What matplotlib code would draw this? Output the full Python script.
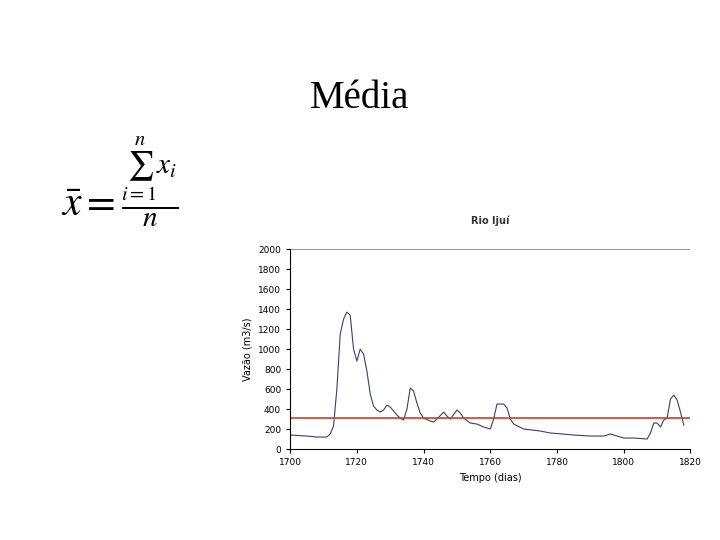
import matplotlib.pyplot as plt

plt.rcParams["mathtext.fontset"] = "stix"

dias = [1700, 1705, 1708, 1711, 1712, 1713, 1714, 1715, 1716, 1717, 1718, 1719, 1720,
        1721, 1722, 1723, 1724, 1725, 1726, 1727, 1728, 1729, 1730, 1731, 1732, 1733,
        1734, 1735, 1736, 1737, 1738, 1739, 1740, 1742, 1743, 1744, 1746, 1747, 1748,
        1750, 1751, 1752, 1754, 1756, 1758, 1760, 1761, 1762, 1764, 1765, 1766, 1767,
        1770, 1775, 1778, 1780, 1785, 1790, 1794, 1796, 1798, 1800, 1803, 1807, 1808,
        1809, 1810, 1811, 1812, 1813, 1814, 1815, 1816, 1817, 1818]
vazao = [140, 130, 120, 120, 150, 230, 600, 1150, 1300, 1370, 1340, 1000, 880,
         1000, 950, 780, 550, 430, 390, 370, 390, 440, 420, 380, 340, 310,
         290, 400, 610, 580, 460, 360, 310, 280, 270, 300, 370, 330, 300,
         390, 360, 310, 260, 250, 220, 200, 300, 450, 450, 410, 300, 250,
         200, 180, 160, 155, 140, 130, 130, 150, 130, 110, 110, 100, 160,
         260, 260, 220, 290, 310, 500, 540, 490, 370, 240]
media = 315

fig = plt.figure(figsize=(7.2, 5.4), dpi=100)
fig.text(0.5, 0.80, "Média", fontsize=28, family="Liberation Serif", ha="center")
fig.text(0.085, 0.60, r"$\bar{x} = \frac{\sum_{i=1}^{n} x_i}{n}$", fontsize=30)

ax = fig.add_axes([0.403, 0.1685, 0.556, 0.37])
ax.plot(dias, vazao, color="#3a3f6e", lw=0.8)
ax.axhline(media, color="#d04020", lw=1.2)
ax.axhline(2000, color="#999999", lw=0.8)
ax.set_xlim(1700, 1820)
ax.set_ylim(0, 2000)
ax.set_xticks(range(1700, 1821, 20))
ax.set_yticks(range(0, 2001, 200))
ax.tick_params(labelsize=6.5, length=3)
for s in ("top", "right"):
    ax.spines[s].set_visible(False)
ax.set_title("Rio Ijuí", fontsize=7, pad=18, fontweight="bold", color="#333333")
ax.set_xlabel("Tempo (dias)", fontsize=7)
ax.set_ylabel("Vazão (m3/s)", fontsize=7)

fig.savefig("out.png")
